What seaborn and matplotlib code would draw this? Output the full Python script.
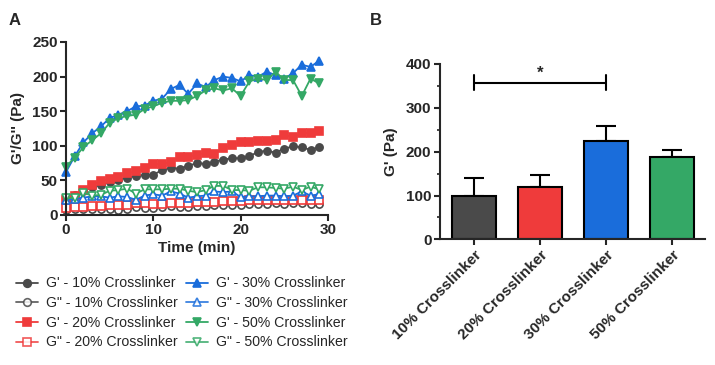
import matplotlib
matplotlib.use("Agg")
import matplotlib.pyplot as plt
from matplotlib.ticker import MultipleLocator
import seaborn as sns
import numpy as np
import pandas as pd

# ---- data ----
time_min = list(range(30))

g1_10 = [20, 29, 34, 41, 43, 48, 51, 54, 56, 58, 58, 65, 68, 67, 71, 75, 74, 77, 80, 82,
         82, 85, 91, 93, 90, 96, 99, 98, 94, 98]
g2_10 = [7, 8, 9, 9, 9, 8, 7, 8, 12, 10, 10, 12, 13, 12, 12, 13, 13, 14, 14, 15,
         15, 16, 16, 16, 17, 16, 17, 17, 16, 16]
g1_20 = [22, 28, 36, 43, 49, 52, 55, 60, 63, 68, 74, 73, 77, 84, 84, 87, 90, 88, 97, 101,
         105, 106, 107, 107, 109, 115, 113, 118, 119, 121]
g2_20 = [10, 11, 12, 13, 13, 14, 15, 15, 17, 17, 16, 16, 17, 18, 18, 19, 19, 19, 20, 20,
         20, 21, 21, 22, 21, 22, 22, 22, 21, 22]
g1_30 = [62, 85, 105, 118, 128, 140, 145, 150, 157, 158, 165, 168, 182, 188, 175, 190, 185, 195, 200, 198,
         193, 202, 200, 207, 202, 197, 205, 217, 214, 223]
g2_30 = [22, 23, 25, 27, 27, 25, 27, 26, 22, 28, 30, 28, 34, 31, 25, 27, 28, 34, 33, 34,
         26, 27, 27, 28, 28, 27, 28, 34, 28, 30]
g1_50 = [70, 83, 98, 108, 118, 133, 140, 143, 145, 153, 157, 162, 165, 165, 166, 172, 180, 183, 180, 183,
         172, 193, 197, 195, 207, 195, 195, 172, 197, 190]
g2_50 = [24, 25, 32, 28, 29, 35, 36, 38, 31, 37, 37, 37, 38, 38, 35, 33, 36, 42, 42, 36,
         36, 35, 40, 40, 39, 38, 41, 36, 41, 37]

groups = ["10% Crosslinker", "20% Crosslinker", "30% Crosslinker", "50% Crosslinker"]
gprime_mean = [98, 120, 223, 187]
gprime_err = [42, 26, 35, 17]
sig_pair = (0, 2)
sig_height = 357

colors = {"10": "#4a4a4a", "20": "#ef3b3b", "30": "#1a6ddb", "50": "#34a866"}

series = [
    ("G' - 10% Crosslinker", g1_10, "10", "o", True),
    ("G\" - 10% Crosslinker", g2_10, "10", "o", False),
    ("G' - 20% Crosslinker", g1_20, "20", "s", True),
    ("G\" - 20% Crosslinker", g2_20, "20", "s", False),
    ("G' - 30% Crosslinker", g1_30, "30", "^", True),
    ("G\" - 30% Crosslinker", g2_30, "30", "^", False),
    ("G' - 50% Crosslinker", g1_50, "50", "v", True),
    ("G\" - 50% Crosslinker", g2_50, "50", "v", False),
]

sns.set_style("ticks")
plt.rcParams["font.family"] = ["Liberation Sans", "DejaVu Sans"]

fig = plt.figure(figsize=(7.15, 3.65), dpi=100)

# ---- panel A ----
axA = fig.add_axes([0.0923, 0.411, 0.3664, 0.474])
handles = []
for label, vals, key, mk, filled in series:
    df = pd.DataFrame({"t": time_min, "v": vals})
    c = colors[key]
    ms = 6 if mk in "^v" else 5.2
    sns.lineplot(data=df, x="t", y="v", ax=axA, color=c, lw=1.3,
                 marker=mk, markersize=ms,
                 markerfacecolor=c if filled else "white",
                 markeredgecolor=c, markeredgewidth=1.2, clip_on=False)
    handles.append(plt.Line2D([], [], color=c, lw=1.3, marker=mk, markersize=5.5,
                              markerfacecolor=c if filled else "white",
                              markeredgecolor=c, markeredgewidth=1.2,
                              alpha=1 if filled else 0.85, label=label))

axA.set_xlim(0, 30)
axA.set_ylim(0, 250)
axA.xaxis.set_major_locator(MultipleLocator(10))
axA.yaxis.set_major_locator(MultipleLocator(50))
axA.set_xlabel("Time (min)", fontsize=11, fontweight="bold", labelpad=3)
axA.set_ylabel("G'/G'' (Pa)", fontsize=11, fontweight="bold", labelpad=5)
for lab in axA.get_xticklabels() + axA.get_yticklabels():
    lab.set_fontweight("bold")
axA.tick_params(labelsize=11, width=1.5, length=4, pad=2)
sns.despine(ax=axA)
for s in ("left", "bottom"):
    axA.spines[s].set_linewidth(1.5)

fig.legend(handles=handles, loc="upper left",
           bbox_to_anchor=(0.015, 0.258), ncol=2, frameon=False,
           fontsize=10.2, handlelength=1.5, handletextpad=0.6,
           columnspacing=0.6, labelspacing=0.4, borderaxespad=0)

# ---- panel B ----
axB = fig.add_axes([0.615, 0.344, 0.371, 0.4815])
dfb = pd.DataFrame({"group": groups, "G": gprime_mean})
sns.barplot(data=dfb, x="group", y="G", hue="group", ax=axB, legend=False,
            palette=[colors[k] for k in ("10", "20", "30", "50")],
            width=0.66, edgecolor="black", linewidth=1.5, saturation=1)
axB.errorbar(range(len(groups)), gprime_mean,
             yerr=[np.zeros(len(groups)), gprime_err],
             fmt="none", ecolor="black", elinewidth=1.5, capsize=7, capthick=1.5,
             zorder=0)

x0, x1 = sig_pair
axB.plot([x0, x1], [sig_height, sig_height], color="black", lw=1.5)
axB.plot([x0, x0], [sig_height - 17, sig_height + 17], color="black", lw=1.5)
axB.plot([x1, x1], [sig_height - 17, sig_height + 17], color="black", lw=1.5)
axB.text((x0 + x1) / 2, sig_height + 5, "*", ha="center", va="bottom",
         fontsize=12, fontweight="bold")

axB.set_xlim(-0.52, 3.5)
axB.set_ylim(0, 400)
axB.yaxis.set_major_locator(MultipleLocator(100))
axB.yaxis.set_minor_locator(MultipleLocator(50))
axB.set_xlabel("")
axB.set_ylabel("G' (Pa)", fontsize=11, fontweight="bold", labelpad=6)
axB.set_xticks(range(len(groups)))
axB.set_xticklabels(groups, rotation=45, ha="right", rotation_mode="anchor",
                    fontweight="bold")
for lab in axB.get_yticklabels():
    lab.set_fontweight("bold")
axB.tick_params(labelsize=11, width=1.5, length=4, pad=2)
axB.tick_params(which="minor", width=1.2, length=2.5)
sns.despine(ax=axB)
for s in ("left", "bottom"):
    axB.spines[s].set_linewidth(1.5)

fig.text(0.012, 0.965, "A", fontsize=12, fontweight="bold", va="top")
fig.text(0.518, 0.965, "B", fontsize=12, fontweight="bold", va="top")

fig.savefig("out.png", dpi=100, facecolor="white")
